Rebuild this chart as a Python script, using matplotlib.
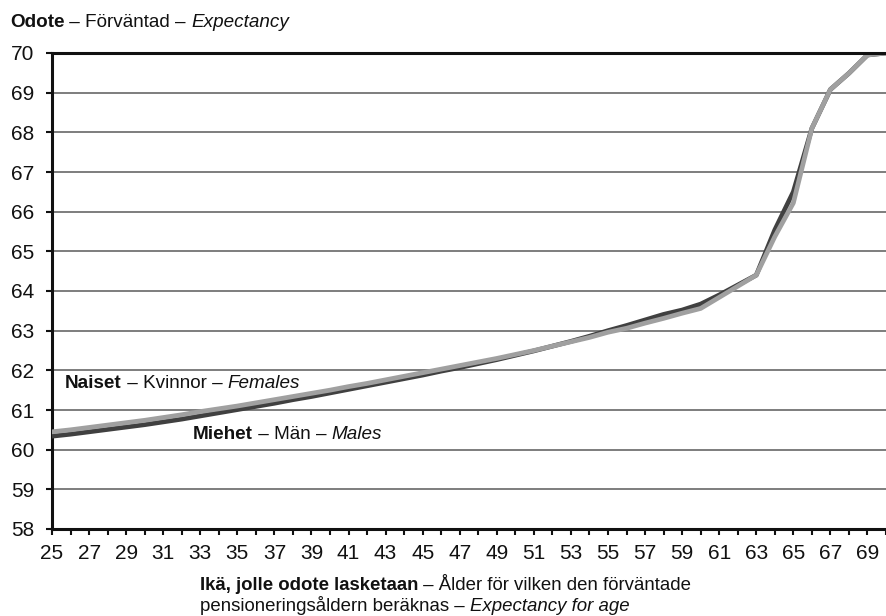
import matplotlib
matplotlib.use('Agg')
from matplotlib import pyplot as plt

plt.rcParams['font.family'] = ['Liberation Sans', 'DejaVu Sans']

Ages = list(range(25, 71))

Females = [60.45, 60.50, 60.56, 60.62, 60.68, 60.74, 60.81, 60.88, 60.96, 61.03,
           61.10, 61.18, 61.26, 61.34, 61.42, 61.50, 61.59, 61.67, 61.76, 61.85,
           61.94, 62.03, 62.12, 62.21, 62.30, 62.40, 62.50, 62.61, 62.72, 62.83,
           62.96, 63.06, 63.19, 63.31, 63.44, 63.56, 63.84, 64.12, 64.40, 65.37,
           66.22, 68.10, 69.08, 69.49, 69.95, 70.00]

Males = [60.34, 60.39, 60.45, 60.51, 60.57, 60.63, 60.70, 60.77, 60.85, 60.93,
         61.01, 61.09, 61.17, 61.26, 61.34, 61.43, 61.52, 61.61, 61.70, 61.79,
         61.88, 61.98, 62.07, 62.17, 62.27, 62.38, 62.49, 62.61, 62.73, 62.86,
         63.00, 63.13, 63.27, 63.41, 63.52, 63.67, 63.90, 64.15, 64.40, 65.54,
         66.50, 68.10, 69.08, 69.49, 69.95, 70.00]

YTicks = list(range(58, 71))
XLabels = [str(a) if a % 2 == 1 else '' for a in Ages]

fig = plt.figure(figsize=(8.86, 6.16), dpi=100)
ax = fig.add_axes([52/886, 87/616, 1 - 52/886, 476/616])

for y in YTicks[1:-1]:
    ax.axhline(y, color='#5a5a5a', lw=1.1, zorder=1)

ax.plot(Ages, Males, color='#404040', lw=3.4, zorder=3)
ax.plot(Ages, Females, color='#a0a0a0', lw=3.4, zorder=4)

ax.set_xlim(25, 69.72)
ax.set_ylim(58, 70)
ax.set_yticks(YTicks)
ax.set_xticks(Ages)
ax.set_xticklabels(XLabels)
ax.tick_params(axis='both', direction='out', length=4, width=1.5, labelsize=15,
               colors='#111111')
ax.tick_params(axis='y', pad=9)
ax.tick_params(axis='x', pad=7)

ax.spines['right'].set_visible(False)
for s in ['left', 'bottom', 'top']:
    ax.spines[s].set_linewidth(2.2)
    ax.spines[s].set_color('#111111')
ax.spines['top'].set_zorder(5)


def chain(parts, x, y, size=13.6):
    # bold / normal / italic pieces one after another on the same line
    prev = None
    for txt, w, st in parts:
        if prev is None:
            prev = ax.annotate(txt, xy=(x, y), xycoords='figure pixels',
                               fontsize=size, fontweight=w, fontstyle=st,
                               va='bottom', ha='left', color='#111111')
        else:
            prev = ax.annotate(txt, xy=(1, 0), xycoords=prev,
                               fontsize=size, fontweight=w, fontstyle=st,
                               va='bottom', ha='left', color='#111111')
    return prev


H = 616
chain([('Odote', 'bold', 'normal'), (' – Förväntad – ', 'normal', 'normal'),
       ('Expectancy', 'normal', 'italic')], 10, H - 31)
chain([('Naiset', 'bold', 'normal'), (' – Kvinnor – ', 'normal', 'normal'),
       ('Females', 'normal', 'italic')], 65, H - 392)
chain([('Miehet', 'bold', 'normal'), (' – Män – ', 'normal', 'normal'),
       ('Males', 'normal', 'italic')], 193, H - 443)
chain([('Ikä, jolle odote lasketaan', 'bold', 'normal'),
       (' – Ålder för vilken den förväntade', 'normal', 'normal')], 200, H - 594,
      size=13.4)
chain([('pensioneringsåldern beräknas – ', 'normal', 'normal'),
       ('Expectancy for age', 'normal', 'italic')], 200, H - 615, size=13.4)

fig.savefig('out.png', dpi=100)
